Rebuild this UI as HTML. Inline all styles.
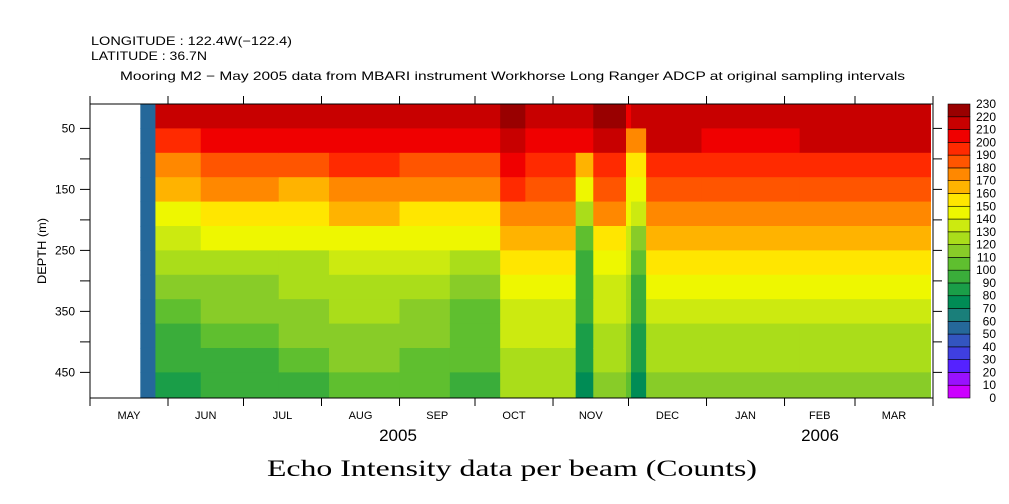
<!DOCTYPE html>
<html><head><meta charset="utf-8">
<style>
body{margin:0;background:#fff;}
svg{display:block;font-family:"Liberation Sans",sans-serif;}
</style></head>
<body>
<svg id="chart" width="1009" height="504">
<text x="91" y="45" font-size="12" textLength="201" lengthAdjust="spacingAndGlyphs">LONGITUDE : 122.4W(−122.4)</text>
<text x="91" y="60" font-size="12" textLength="116" lengthAdjust="spacingAndGlyphs">LATITUDE : 36.7N</text>
<text x="120" y="80" font-size="12" textLength="785" lengthAdjust="spacingAndGlyphs">Mooring M2 − May 2005 data from MBARI instrument Workhorse Long Ranger ADCP at original sampling intervals</text>
<g id="cells"></g>
<g id="axes"></g>
<g id="cbar"></g>
<text x="46" y="251" font-size="12" text-anchor="middle" textLength="66" lengthAdjust="spacingAndGlyphs" transform="rotate(-90 46 251)">DEPTH (m)</text>
<text x="398" y="441" font-size="17" text-anchor="middle">2005</text>
<text x="820" y="441" font-size="17" text-anchor="middle">2006</text>
<text x="512" y="476" font-size="23" text-anchor="middle" font-family="Liberation Serif, serif" textLength="490" lengthAdjust="spacingAndGlyphs">Echo Intensity data per beam (Counts)</text>
</svg>
<script>
// time segments in days since 1 May 2005
const segStart = [20, 26, 44, 75, 95, 123, 143, 163, 173, 193, 200, 213, 215, 221, 243, 282];
const segEnd   = [26, 44, 75, 95, 123, 143, 163, 173, 193, 200, 213, 215, 221, 243, 282, 334];
// depth bins (m), each segment profile gives one value per bin
const depthEdges = [10, 50, 90, 130, 170, 210, 250, 290, 330, 370, 410, 450, 492];
const profiles = [
 [55,55,55,55,55,55,55,55,55,55,55,55],
 [210,195,175,160,145,130,120,110,100,95,90,85],
 [215,200,185,170,155,140,125,115,110,100,95,90],
 [215,200,185,165,150,140,125,120,115,110,105,95],
 [215,205,190,175,160,145,135,125,120,115,110,100],
 [215,200,185,170,155,140,130,120,115,110,105,100],
 [215,205,185,170,150,140,125,115,105,100,100,95],
 [220,210,200,190,175,165,150,140,135,130,125,120],
 [215,205,190,180,170,160,150,140,135,130,125,120],
 [215,200,160,140,120,105,95,90,90,85,80,75],
 [220,210,195,180,170,155,145,135,130,125,120,115],
 [200,175,150,145,140,135,130,125,120,115,110,105],
 [210,170,150,140,130,115,105,95,90,85,80,75],
 [215,210,195,185,175,160,150,140,130,125,120,115],
 [215,205,195,180,170,160,150,140,130,125,120,115],
 [215,210,195,180,170,160,150,140,130,125,120,115]
];
const levels = [0,10,20,30,40,50,60,70,80,90,100,110,120,130,140,150,160,170,180,190,200,210,220,230];
const palette = ['#cc00ff','#9911ff','#5522ff','#3f3fe0','#3355c0','#25689a','#1a7f7a','#008c55','#1a9e48','#3aad3a','#5fbf2f','#88cc28','#aadd1a','#ccea10','#eef700','#ffe600','#ffb300','#ff8800','#ff5500','#ff2a00','#f00000','#c80000','#990000'];
const monthDays = [0,31,61,92,123,153,184,214,245,276,304,335];
const monthNames = ['MAY','JUN','JUL','AUG','SEP','OCT','NOV','DEC','JAN','FEB','MAR'];
const depthTicks = [50,100,150,200,250,300,350,400,450];

const NS='http://www.w3.org/2000/svg';
const X0=90,X1=933,Y0=104,Y1=398,D0=10,D1=492;
const xs=d=>X0+(X1-X0)*d/335;
const ys=z=>Y0+(Y1-Y0)*(z-D0)/(D1-D0);
function mk(tag,attrs,parent){const e=document.createElementNS(NS,tag);for(const k in attrs)e.setAttribute(k,attrs[k]);parent.appendChild(e);return e;}
function col(v){let i=Math.floor(v/10);i=Math.max(0,Math.min(22,i));return palette[i];}

const cells=document.getElementById('cells');
for(let s=0;s<segStart.length;s++){
  for(let b=0;b<depthEdges.length-1;b++){
    const x=xs(segStart[s]),w=xs(segEnd[s])-x,y=ys(depthEdges[b]),h=ys(depthEdges[b+1])-y;
    const r=mk('rect',{x:x,y:y,width:w+0.5,height:h+0.5,fill:col(profiles[s][b])},cells);
    
    
  }
}

const ax=document.getElementById('axes');
const frame=mk('rect',{x:X0,y:Y0,width:X1-X0,height:Y1-Y0,fill:'none',stroke:'#000','stroke-width':1},ax);


monthDays.forEach(d=>{const x=xs(d);
  mk('line',{x1:x,y1:Y1,x2:x,y2:Y1+8,stroke:'#000'},ax);
  mk('line',{x1:x,y1:Y0,x2:x,y2:Y0-8,stroke:'#000'},ax);});
monthNames.forEach((m,i)=>{const t=mk('text',{x:xs((monthDays[i]+monthDays[i+1])/2),y:419,'font-size':11,'text-anchor':'middle'},ax);t.textContent=m;
  
  });
depthTicks.forEach((z,i)=>{const y=ys(z);
  mk('line',{x1:X0-10,y1:y,x2:X0,y2:y,stroke:'#000'},ax);
  mk('line',{x1:X1,y1:y,x2:X1+9,y2:y,stroke:'#000'},ax);
  if(i%2===0){const t=mk('text',{x:X0-15,y:y+4,'font-size':12,'text-anchor':'end'},ax);t.textContent=z;
    
    }});

const cb=document.getElementById('cbar');
const CX=948,CW=22;
const cy=v=>Y1-(Y1-Y0)*v/230;
for(let i=0;i<palette.length;i++){
  const r=mk('rect',{x:CX,y:cy(levels[i+1]),width:CW,height:cy(levels[i])-cy(levels[i+1]),fill:palette[i],stroke:'#000','stroke-width':0.6},cb);
  
  
}
levels.forEach(v=>{const t=mk('text',{x:996,y:cy(v)+4,'font-size':12,'text-anchor':'end'},cb);t.textContent=v;
  
  });
</script>
</body></html>
